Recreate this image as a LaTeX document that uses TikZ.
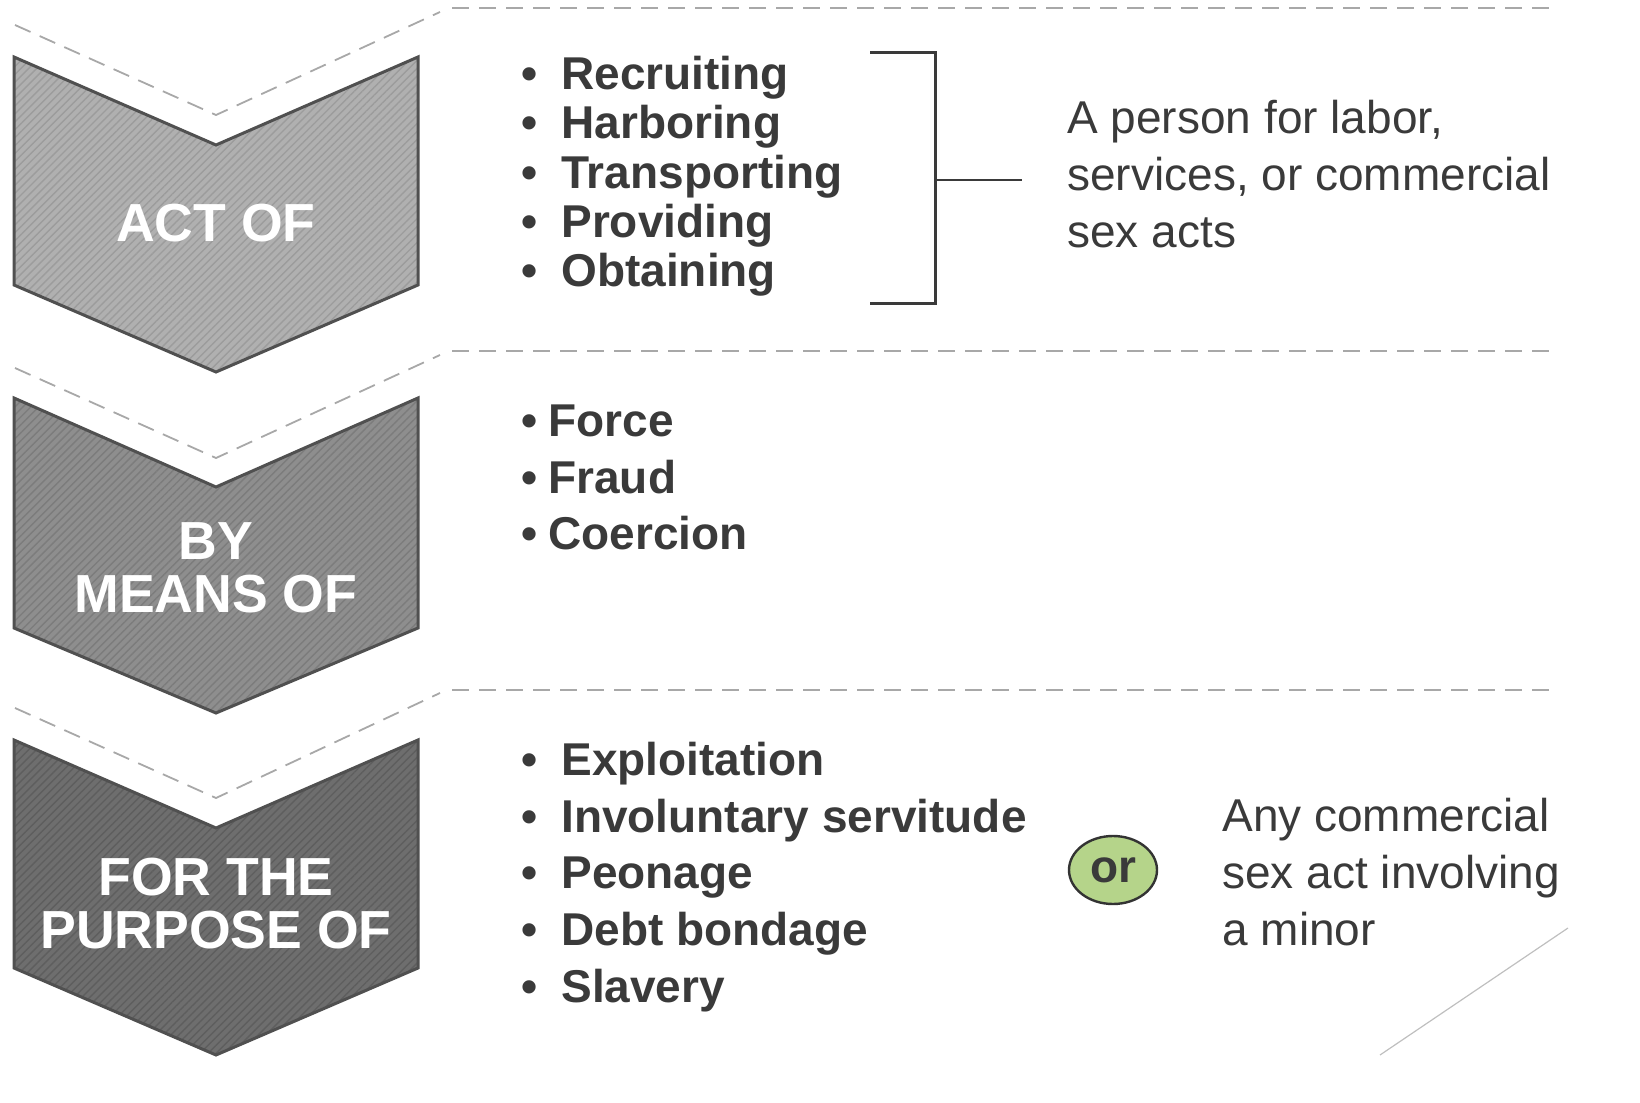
\documentclass[tikz,border=0pt]{standalone}
\usepackage{fontspec}
\setmainfont{Liberation Sans}
\usetikzlibrary{shapes.geometric,patterns.meta}
\definecolor{txt}{HTML}{3A3A3A}
\definecolor{edge}{HTML}{505050}
\definecolor{dashc}{HTML}{A8A8A8}
\definecolor{fillA}{HTML}{B0B0B0}
\definecolor{lineA}{HTML}{9C9C9C}
\definecolor{fillB}{HTML}{8E8E8E}
\definecolor{lineB}{HTML}{7C7C7C}
\definecolor{fillC}{HTML}{6E6E6E}
\definecolor{lineC}{HTML}{5E5E5E}
\definecolor{orgreen}{HTML}{B5D48A}
\begin{document}
\begin{tikzpicture}[x=0.5pt,y=-0.5pt,
  chev/.style={draw=edge,line width=1.5pt,line join=miter},
  chevA/.style={chev,preaction={fill=fillA},pattern={Lines[angle=45,distance=2.8pt,line width=0.7pt]},pattern color=lineA},
  chevB/.style={chev,preaction={fill=fillB},pattern={Lines[angle=45,distance=2.8pt,line width=0.7pt]},pattern color=lineB},
  chevC/.style={chev,preaction={fill=fillC},pattern={Lines[angle=45,distance=2.8pt,line width=0.7pt]},pattern color=lineC},
  sep/.style={draw=dashc,line width=0.9pt,dash pattern=on 8.5pt off 5pt},
  chevtext/.style={text=white,font=\fontsize{26.8}{26.5}\selectfont\bfseries,align=center,inner sep=0pt},
  item/.style={anchor=base west,text=txt,font=\fontsize{23}{28}\selectfont\bfseries,inner sep=0pt},
  plain/.style={anchor=base west,text=txt,font=\fontsize{23}{28.4}\selectfont,inner sep=0pt,align=left},
  bracket/.style={draw=txt,line width=1.5pt},
  ornode/.style={ellipse,draw=black!80,line width=1.2pt,fill=orgreen,minimum width=44pt,minimum height=34pt,inner sep=0pt,text=txt,font=\fontsize{23}{28}\selectfont\bfseries}
]
\useasboundingbox (0,0) rectangle (1640,1103);

% separators
\draw[sep] (15,25) -- (216,115) -- (440,12);
\draw[sep] (452,8) -- (1555,8);
\draw[sep] (15,368) -- (216,458) -- (440,355);
\draw[sep] (452,351) -- (1555,351);
\draw[sep] (15,708) -- (216,798) -- (440,693);
\draw[sep] (452,690) -- (1555,690);

% chevrons
\path[chevA] (14,57) -- (216,145) -- (418,57) -- (418,285) -- (216,372) -- (14,285) -- cycle;
\path[chevB] (14,398) -- (216,487) -- (418,398) -- (418,628) -- (216,713) -- (14,628) -- cycle;
\path[chevC] (14,740) -- (216,828) -- (418,740) -- (418,968) -- (216,1055) -- (14,968) -- cycle;

\node[chevtext,anchor=base] (actof) at (216,241) {ACT OF};
\node[chevtext,anchor=base] (bymeans) at (216,612) {BY\\MEANS OF};
\node[chevtext,anchor=base] (purpose) at (216,948) {FOR THE\\PURPOSE OF};

% list 1
\node[item] (rec) at (521,89) {\makebox[20pt][l]{•}Recruiting};
\node[item] (har) at (521,138) {\makebox[20pt][l]{•}Harboring};
\node[item] (tra) at (521,188) {\makebox[20pt][l]{•}Transporting};
\node[item] (pro) at (521,237) {\makebox[20pt][l]{•}Providing};
\node[item] (obt) at (521,286) {\makebox[20pt][l]{•}Obtaining};

% bracket
\coordinate (bt) at (870,52);
\coordinate (bb) at (870,303);
\coordinate (bm) at (935,180);
\node[plain] (person) at (1067,247) {A person for labor,\\services, or commercial\\sex acts};
\draw[bracket] (bt) -- (935,52) -- (935,303) -- (bb);
\draw[draw=txt,line width=1.2pt] (bm) -- (1022,180);

% list 2
\node[item] (for) at (521,436) {\makebox[13.5pt][l]{•}Force};
\node[item] (fra) at (521,493) {\makebox[13.5pt][l]{•}Fraud};
\node[item] (coe) at (521,549) {\makebox[13.5pt][l]{•}Coercion};

% list 3
\node[item] (exp) at (521,775) {\makebox[20pt][l]{•}Exploitation};
\node[item] (inv) at (521,832) {\makebox[20pt][l]{•}Involuntary servitude};
\node[item] (peo) at (521,888) {\makebox[20pt][l]{•}Peonage};
\node[item] (deb) at (521,945) {\makebox[20pt][l]{•}Debt bondage};
\node[item] (sla) at (521,1002) {\makebox[20pt][l]{•}Slavery};

\node[ornode] (or) at (1113,870) {or};
\node[plain] (minor) at (1222,945) {Any commercial\\sex act involving\\a minor};

% corner line
\draw[draw=black!25,line width=0.6pt] (1380,1055) -- (1568,928);
\end{tikzpicture}
\end{document}
